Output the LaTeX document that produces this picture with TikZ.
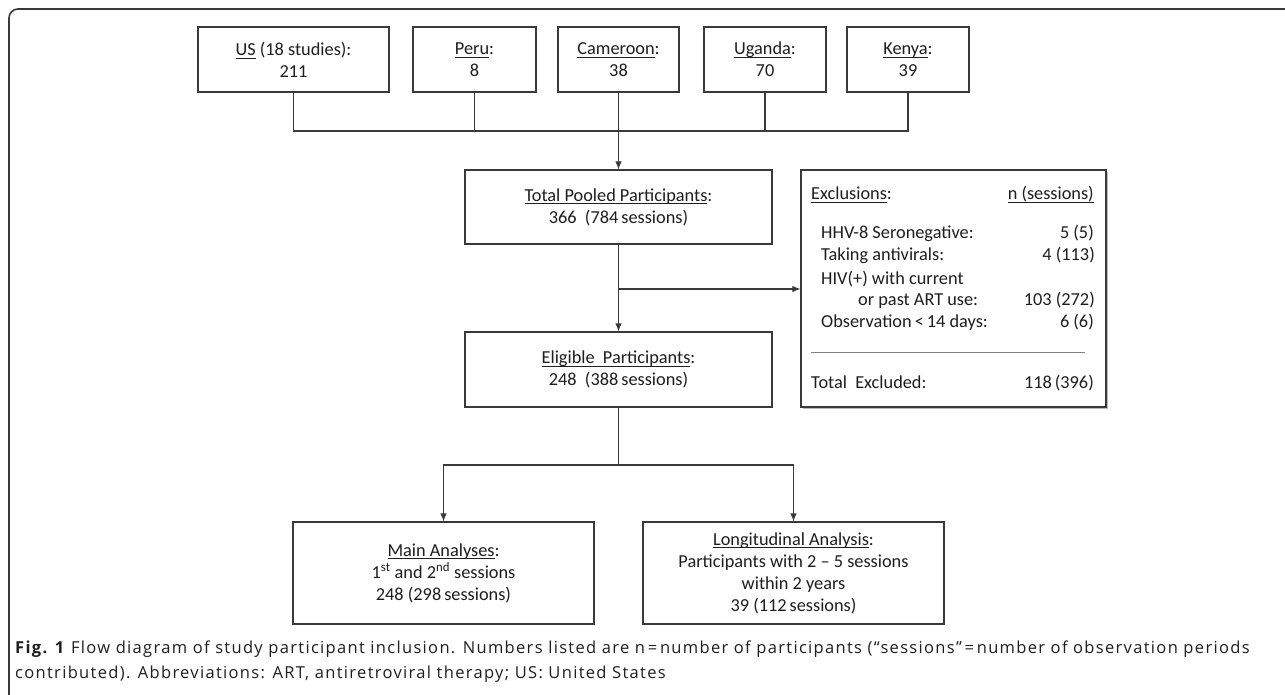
\documentclass[tikz,border=0pt]{standalone}
\usepackage{fontspec}
\setmainfont{Carlito}
\newfontfamily\capfont[LetterSpace=8]{Open Sans}
\usepackage{xcolor}
\usetikzlibrary{arrows.meta, shadows}
\definecolor{linegray}{HTML}{3A3A3A}
\definecolor{textgray}{HTML}{1E1E1E}
\newsavebox\ulbox
\newcommand{\ulword}[1]{\sbox\ulbox{#1}\rlap{\rule[-3.3pt]{\wd\ulbox}{0.9pt}}\usebox\ulbox}

\begin{document}
\begin{tikzpicture}[x=1pt, y=-1pt,
    box/.style={draw=linegray, line width=1.1pt, fill=white, align=center, inner sep=0pt,
      text=textgray, font=\fontsize{18.3}{22}\selectfont},
    entry/.style={anchor=base west, inner sep=0pt, text=textgray, font=\fontsize{18.3}{22}\selectfont},
    value/.style={anchor=base east, inner sep=0pt, text=textgray, font=\fontsize{18.3}{22}\selectfont},
    link/.style={draw=linegray, line width=1.1pt},
    >={Latex[length=8pt,width=6.5pt]}]
        \useasboundingbox (0,0) rectangle (1285,695);
        \draw[linegray, line width=1.6pt, rounded corners=9pt] (9,705) -- (9,9) -- (1300,9);

        \node[box, minimum width=191pt, minimum height=65pt] (us) at (293.5,59.5) {\ulword{US} (18 studies):\\211};
        \node[box, minimum width=123pt, minimum height=65pt] (peru) at (474.5,59.5) {\ulword{Peru}:\\8};
        \node[box, minimum width=121pt, minimum height=65pt] (cameroon) at (618.5,59.5) {\ulword{Cameroon}:\\38};
        \node[box, minimum width=122pt, minimum height=65pt] (uganda) at (765,59.5) {\ulword{Uganda}:\\70};
        \node[box, minimum width=122pt, minimum height=65pt] (kenya) at (908,59.5) {\ulword{Kenya}:\\39};

        \node[box, minimum width=307pt, minimum height=74pt] (pooled) at (618.5,207) {\ulword{Total Pooled Participants}:\\366~ (784\,sessions)};
        \node[box, minimum width=307pt, minimum height=75pt] (eligible) at (618.5,369.5) {\ulword{Eligible~ Participants}:\\248~ (388\,sessions)};
        \node[box, minimum width=305pt, minimum height=237pt, line width=1.2pt,
          drop shadow={shadow xshift=1.6pt, shadow yshift=-1.6pt, fill=black!45, opacity=0.6}] (excl) at (953.5,288.5) {};

        \node[box, minimum width=301pt, minimum height=102pt] (main) at (443.5,573) {\ulword{Main Analyses}:\\1\textsuperscript{st} and 2\textsuperscript{nd} sessions\\248 (298\,sessions)};
        \node[box, minimum width=301pt, minimum height=102pt] (long) at (793.5,573) {\ulword{Longitudinal Analysis}:\\Participants with 2 -- 5 sessions\\within 2 years\\39 (112\,sessions)};

        \node[entry] (exhead) at (811,200) {\ulword{Exclusions}:};
        \node[value] (exn) at (1094,200) {\ulword{n (sessions)}};
        \node[entry] (exsero) at (821,239) {HHV-8 Seronegative:};
        \node[value] (exseron) at (1094,239) {5 (5)};
        \node[entry] (exanti) at (821,261) {Taking antivirals:};
        \node[value] (exantin) at (1095,261) {4 (113)};
        \node[entry] (exhiv) at (821,284) {HIV(+) with current};
        \node[entry] (exart) at (858,305) {or past ART use:};
        \node[value] (exartn) at (1095,305) {103 (272)};
        \node[entry] (exobs) at (821,327) {Observation\,<\,14 days:};
        \node[value] (exobsn) at (1094,327) {6 (6)};
        \draw[black!50, line width=0.8pt] (811,352) -- (1085,352);
        \node[entry] (extotal) at (811,388) {Total~ Excluded:};
        \node[value] (extotaln) at (1094,388) {118\,(396)};

        \coordinate (join) at (618.5,131);
        \coordinate (split) at (618.5,289);
        \coordinate (fork) at (618.5,465);
        \draw[link] (us.south) |- (kenya.south |- join) -- (kenya.south);
        \draw[link] (peru.south) -- (peru.south |- join);
        \draw[link] (uganda.south) -- (uganda.south |- join);
        \draw[link, ->] (cameroon.south) -- (pooled.north);
        \draw[link, ->] (pooled.south) -- (eligible.north);
        \draw[link, ->] (split) -- (excl.west |- split);
        \draw[link] (eligible.south) -- (fork);
        \draw[link, ->] (fork) -| (main.north);
        \draw[link, ->] (fork) -| (long.north);

        \node[anchor=base west, inner sep=0pt, text=textgray, font=\capfont\fontsize{16.5}{25}\selectfont] (capone) at (15,653)
          {\textbf{Fig. 1} Flow diagram of study participant inclusion. Numbers listed are n\,=\,number of participants (“sessions”\,=\,number of observation periods};
        \node[anchor=base west, inner sep=0pt, text=textgray, font=\capfont\fontsize{16.5}{25}\selectfont] (captwo) at (15,678)
          {contributed). Abbreviations: ART, antiretroviral therapy; US: United States};
\end{tikzpicture}
\end{document}
